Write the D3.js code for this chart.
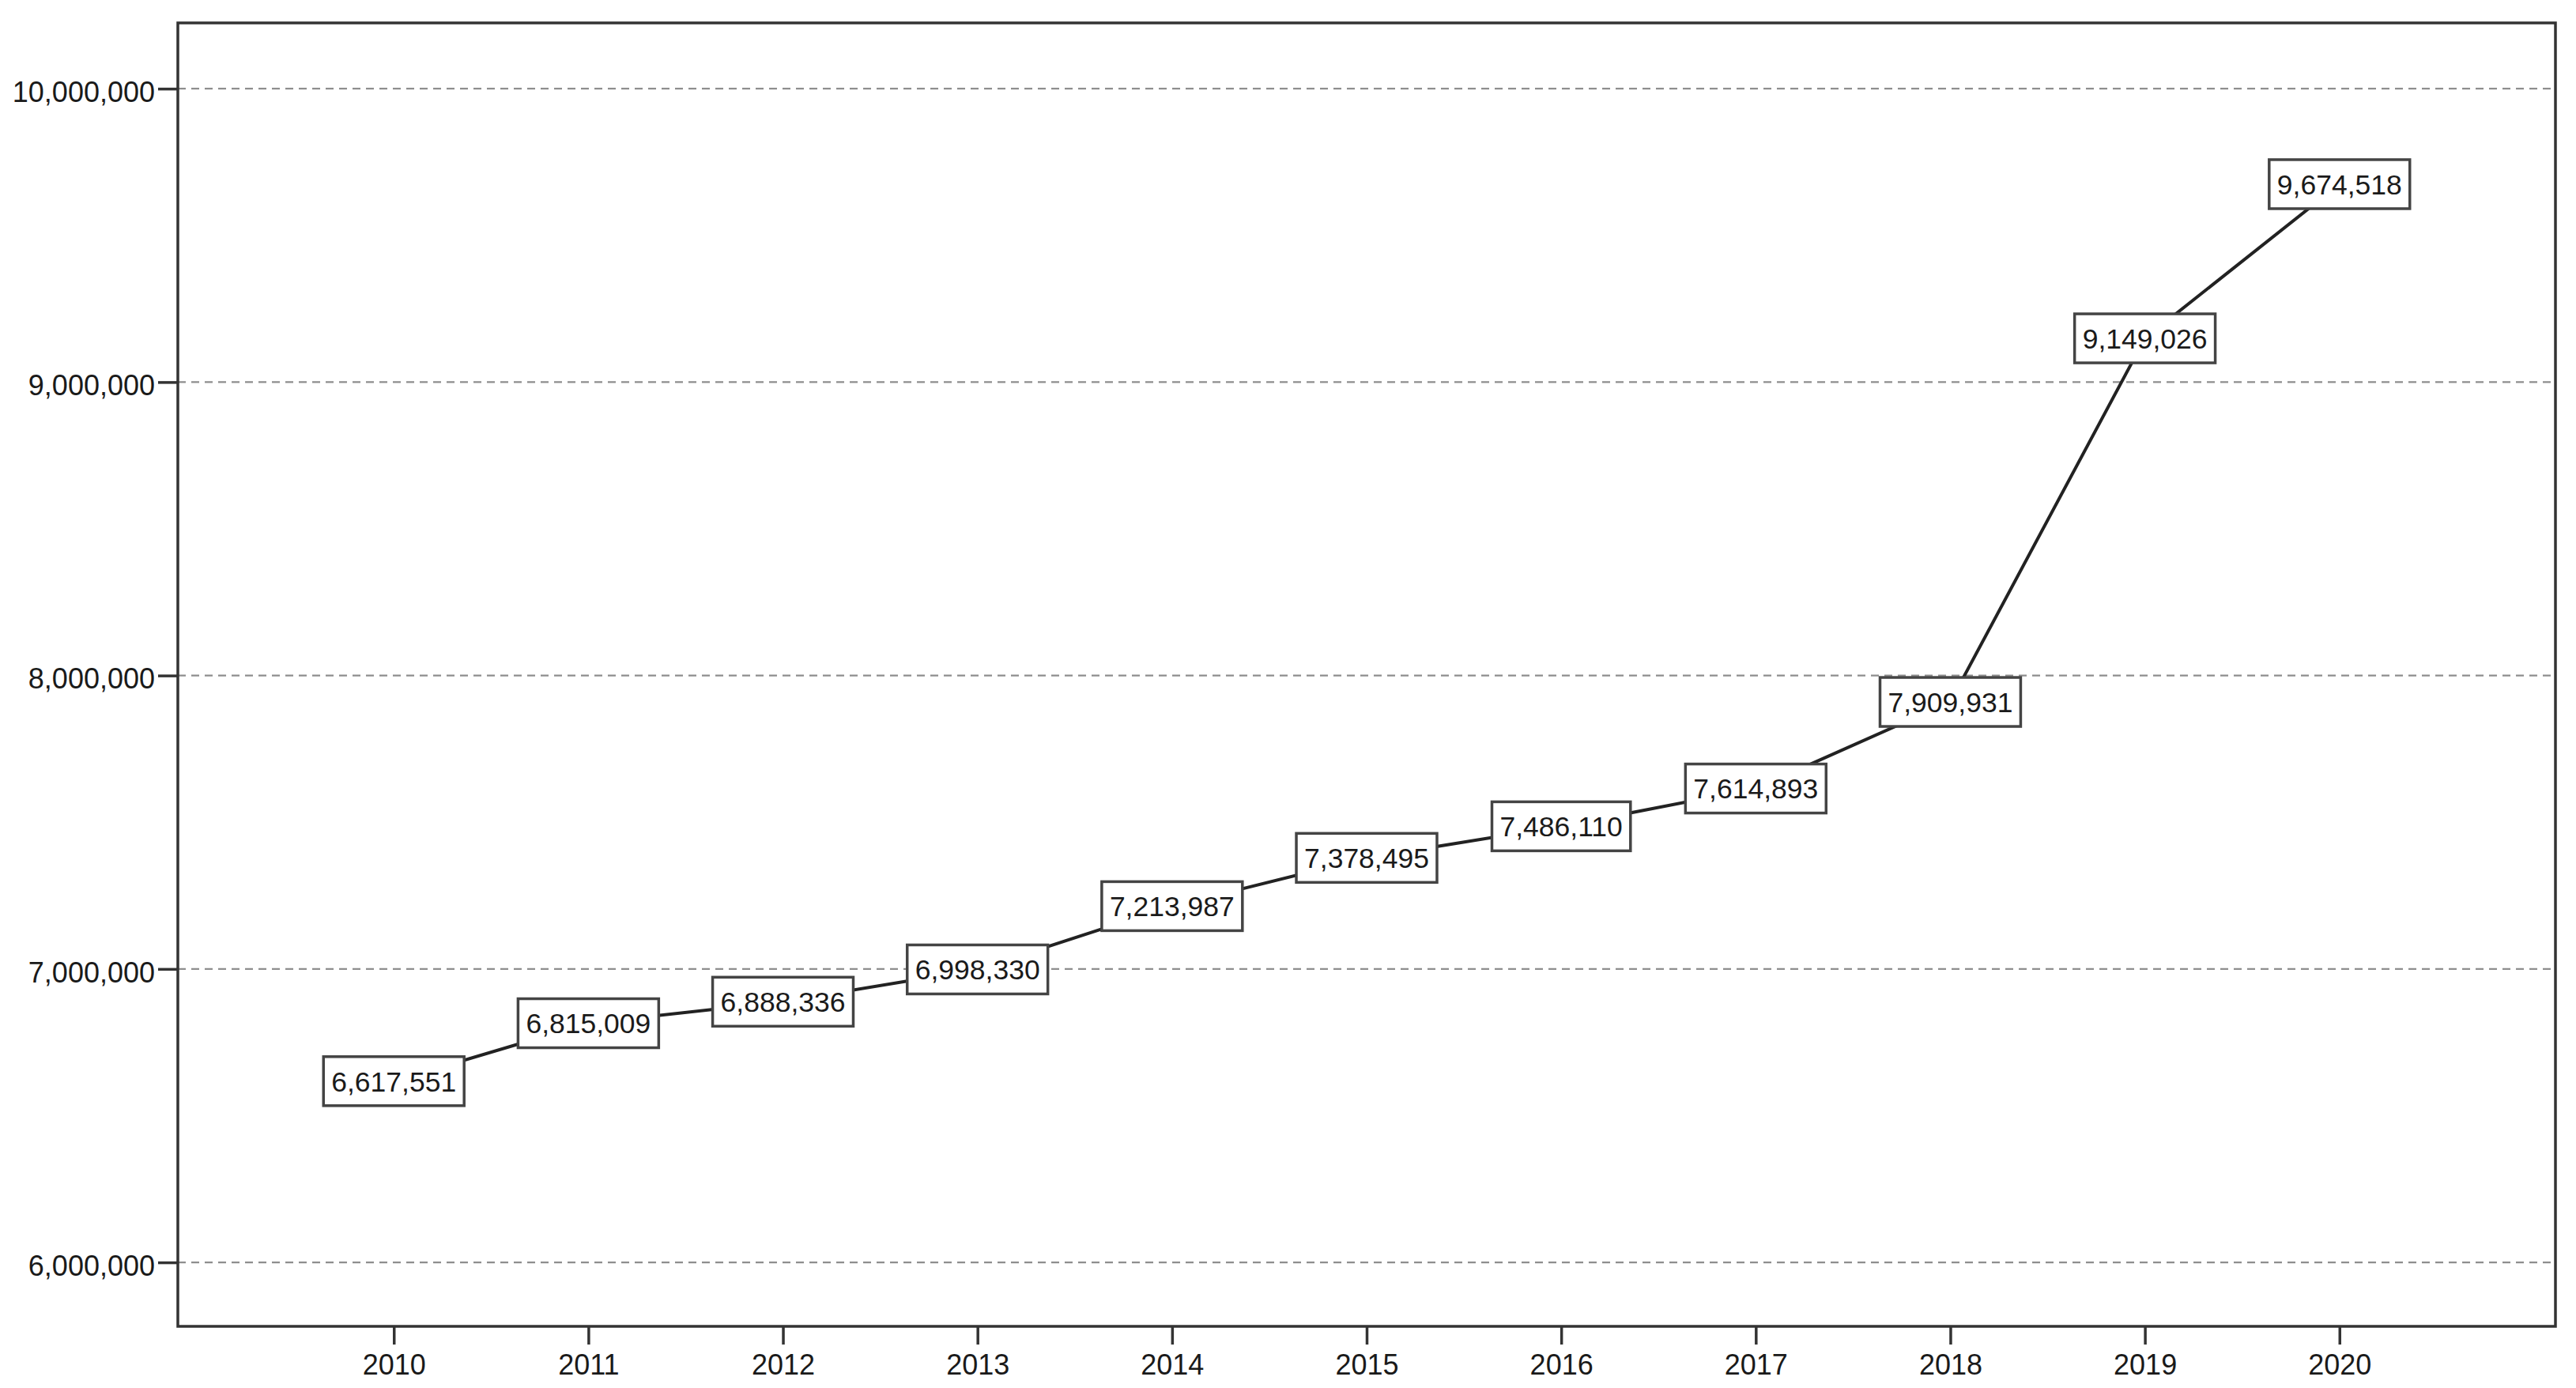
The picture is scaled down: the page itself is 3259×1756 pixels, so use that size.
<!DOCTYPE html>
<html>
<head>
<meta charset="utf-8">
<script src="https://cdn.jsdelivr.net/npm/d3@7"></script>
<style>
  body { margin: 0; background: #fff; }
  svg { display: block; }
  text { font-family: "Liberation Sans", Arial, sans-serif; fill: #1a1a1a; }
</style>
</head>
<body>
<svg id="chart" width="3259" height="1756"></svg>
<script>
// data
var years = ["2010","2011","2012","2013","2014","2015","2016","2017","2018","2019","2020"];
var values = [6617551, 6815009, 6888336, 6998330, 7213987, 7378495, 7486110, 7614893, 7909931, 9149026, 9674518];
var yTicks = [6000000, 7000000, 8000000, 9000000, 10000000];

var svg = d3.select("#chart");
var frame = {left: 225, top: 29, right: 3233, bottom: 1678};
var fmt = d3.format(",");

var x = d3.scalePoint()
    .domain(years)
    .range([frame.left, frame.right])
    .padding(1.11);
var y = d3.scaleLinear()
    .domain([5782000, 10224000])
    .range([frame.bottom, frame.top]);

// dashed grid
svg.append("g").attr("class", "grid")
  .selectAll("line").data(yTicks).enter().append("line")
    .attr("x1", frame.left).attr("x2", frame.right)
    .attr("y1", function(d){ return y(d); })
    .attr("y2", function(d){ return y(d); })
    .attr("stroke", "#8e8e8e")
    .attr("stroke-width", 2.2)
    .attr("stroke-dasharray", "10,7");

// axes
var gy = svg.append("g")
    .attr("transform", "translate(" + frame.left + ",0)")
    .call(d3.axisLeft(y).tickValues(yTicks).tickFormat(fmt).tickSize(25).tickPadding(4));
var gx = svg.append("g")
    .attr("transform", "translate(0," + frame.bottom + ")")
    .call(d3.axisBottom(x).tickSize(23).tickPadding(12));

[gy, gx].forEach(function(g){
  g.select(".domain").remove();
  g.selectAll(".tick line").attr("stroke", "#333").attr("stroke-width", 3.5);
  g.selectAll(".tick text").attr("font-size", 36).attr("fill", "#1a1a1a")
    .attr("font-family", "'Liberation Sans', Arial, sans-serif");
});
gy.selectAll(".tick text").attr("dy", "0.45em");

// frame
svg.append("rect")
    .attr("x", frame.left).attr("y", frame.top)
    .attr("width", frame.right - frame.left)
    .attr("height", frame.bottom - frame.top)
    .attr("fill", "none")
    .attr("stroke", "#333")
    .attr("stroke-width", 3.5);

// line
var pts = years.map(function(d, i){ return {year: d, value: values[i]}; });
svg.append("path")
    .datum(pts)
    .attr("fill", "none")
    .attr("stroke", "#222")
    .attr("stroke-width", 4)
    .attr("d", d3.line()
        .x(function(d){ return x(d.year); })
        .y(function(d){ return y(d.value); }));

// value labels in boxes
var lbl = svg.append("g").selectAll("g").data(pts).enter().append("g")
    .attr("transform", function(d){ return "translate(" + x(d.year) + "," + y(d.value) + ")"; });
var rects = lbl.append("rect")
    .attr("fill", "#fff")
    .attr("stroke", "#444")
    .attr("stroke-width", 3.5);
var txt = lbl.append("text")
    .attr("text-anchor", "middle")
    .attr("dy", "0.36em")
    .attr("font-size", 35.5)
    .text(function(d){ return fmt(d.value); });
txt.each(function(d, i){
  var w = this.getComputedTextLength() + 20, h = 62;
  d3.select(rects.nodes()[i])
    .attr("x", -w / 2).attr("y", -h / 2)
    .attr("width", w).attr("height", h);
});
</script>
</body>
</html>
